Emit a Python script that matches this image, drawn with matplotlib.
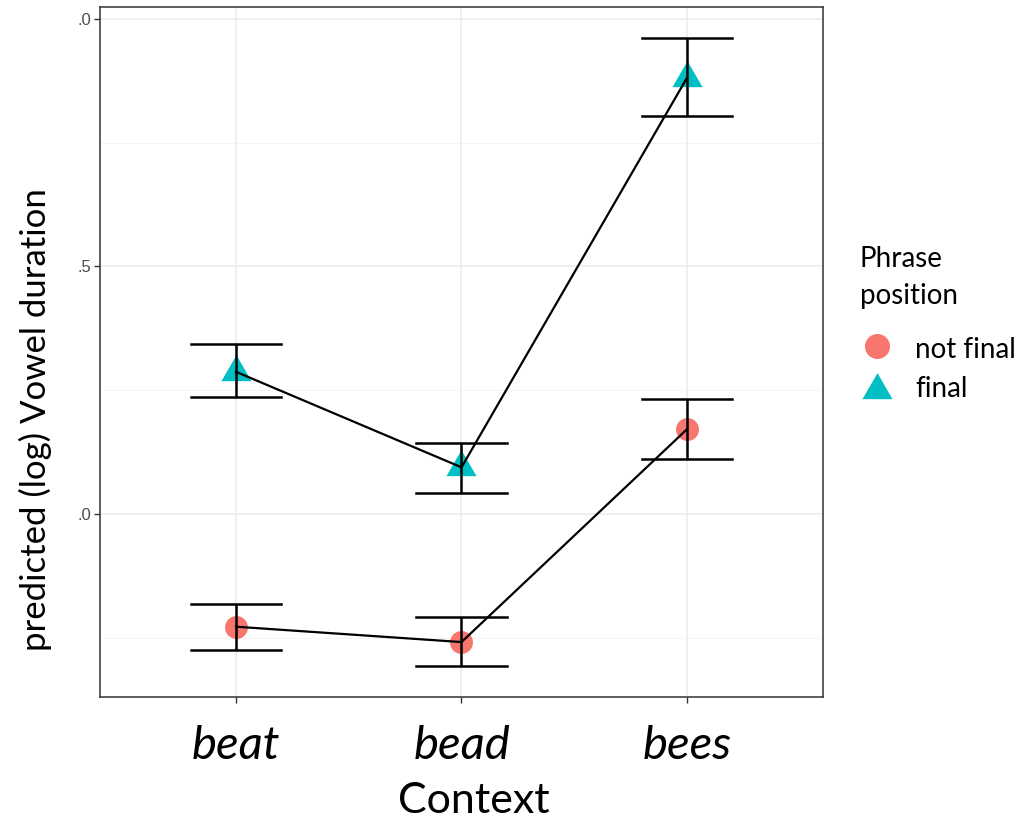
import matplotlib
matplotlib.use("Agg")
import matplotlib.pyplot as plt
from matplotlib.lines import Line2D

# Model predictions of (log) vowel duration by context and phrase position
contexts = ["beat", "bead", "bees"]
not_final_fit = [3.772, 3.741, 4.171]
not_final_lo = [3.724, 3.693, 4.111]
not_final_hi = [3.818, 3.791, 4.232]
final_fit = [4.287, 4.094, 4.881]
final_lo = [4.237, 4.042, 4.804]
final_hi = [4.343, 4.143, 4.961]
ytick_vals = [4.0, 4.5, 5.0]
ytick_labels = [".0", ".5", ".0"]
minor_vals = [3.75, 4.25, 4.75]
legend_title = "Phrase\nposition"
legend_labels = ["not final", "final"]

RED = "#F8766D"
CYAN = "#00BFC4"
BODY_FONT = ["Lato", "DejaVu Sans"]

W, H = 1026, 819
fig = plt.figure(figsize=(W / 100, H / 100), dpi=100)


def fx(px):
    return px / W


def fy(py):
    return 1 - py / H


ax = fig.add_axes([fx(100), fy(697), 723 / W, 690 / H])

# equilateral triangle centred on its centroid (like ggplot shape 17)
TRI = [(0, 1), (-0.866, -0.5), (0.866, -0.5)]

x = [1, 2, 3]
half_w = 0.2


def draw_series(fit, lo, hi, color, marker, ms):
    ax.plot(x, fit, color="black", lw=1.6, zorder=3)
    for xi, l, h in zip(x, lo, hi):
        ax.plot([xi, xi], [l, h], color="black", lw=1.8, zorder=3, solid_capstyle="butt")
        ax.plot([xi - half_w, xi + half_w], [l, l], color="black", lw=1.8, zorder=3)
        ax.plot([xi - half_w, xi + half_w], [h, h], color="black", lw=1.8, zorder=3)
    ax.plot(x, fit, linestyle="none", marker=marker, color=color, ms=ms,
            markeredgewidth=0, zorder=2)


draw_series(not_final_fit, not_final_lo, not_final_hi, RED, "o", 16.5)
draw_series(final_fit, final_lo, final_hi, CYAN, TRI, 25)

ax.set_xlim(0.397, 3.603)
ax.set_ylim(3.630, 5.024)

ax.set_xticks(x)
ax.set_xticklabels(contexts, fontsize=34, fontstyle="italic", family=BODY_FONT)
ax.set_yticks(ytick_vals)
ax.set_yticklabels(ytick_labels, fontsize=12, color="#4D4D4D", family="Liberation Sans")
ax.set_yticks(minor_vals, minor=True)

ax.grid(True, which="major", color="#EBEBEB", lw=1.1, zorder=0)
ax.grid(True, which="minor", color="#F2F2F2", lw=0.6, zorder=0)
ax.set_axisbelow(True)
ax.tick_params(axis="both", which="major", length=4, width=1, color="#333333")
ax.tick_params(axis="x", pad=16)
ax.tick_params(axis="y", pad=2)
ax.tick_params(axis="y", which="minor", length=0)
for s in ax.spines.values():
    s.set_color("#333333")
    s.set_linewidth(1.1)

ax.set_xlabel("Context", fontsize=31, family=BODY_FONT)
ax.xaxis.set_label_coords((474 - 100) / 723, (697 - 813) / 690)
ax.xaxis.label.set_va("baseline")

fig.text(fx(35), fy(420), "predicted (log) Vowel duration", rotation=90,
         ha="center", va="center", fontsize=25, family=BODY_FONT)

# legend, drawn by hand in figure coordinates
title_lines = legend_title.split("\n")
for line, base in zip(title_lines, [267, 304]):
    fig.text(fx(860), fy(base), line, ha="left", va="baseline",
             fontsize=20, family=BODY_FONT)
fig.add_artist(Line2D([fx(877)], [fy(346)], transform=fig.transFigure,
                      linestyle="none", marker="o", color=RED, ms=18,
                      markeredgewidth=0))
fig.add_artist(Line2D([fx(877)], [fy(390)], transform=fig.transFigure,
                      linestyle="none", marker=TRI, color=CYAN, ms=25,
                      markeredgewidth=0))
for lab, base in zip(legend_labels, [358, 397]):
    fig.text(fx(915), fy(base), lab, ha="left", va="baseline",
             fontsize=20, family=BODY_FONT)

fig.savefig("out.png", dpi=100)
